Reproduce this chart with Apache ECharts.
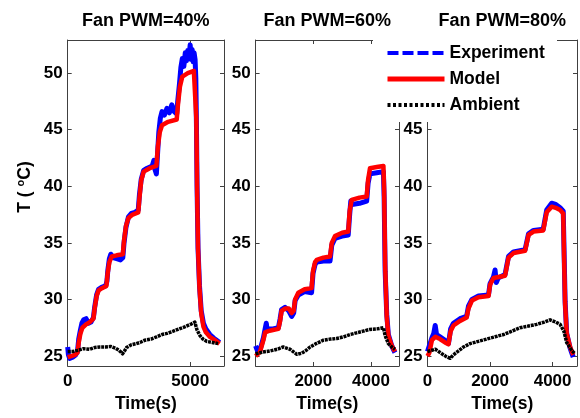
<!DOCTYPE html>
<html>
<head>
<meta charset="utf-8">
<script src="https://cdn.jsdelivr.net/npm/echarts@6/dist/echarts.min.js"></script>
<style>
  html, body { margin: 0; padding: 0; background: #fff; }
  #chart { width: 580px; height: 418px; }
</style>
</head>
<body>
<div id="chart"></div>
<script>
// Panel titles and series names
const panelTitles = ['Fan PWM=40%', 'Fan PWM=60%', 'Fan PWM=80%'];
const seriesNames = ['Experiment', 'Model', 'Ambient'];

// Axis ranges and ticks
const xMax = [6380, 4970, 4780];
const xTicks = [[0, 5000], [0, 2000, 4000], [0, 2000, 4000]];
const xLabels = [[0, 5000], [2000, 4000], [0, 2000, 4000]];
const yMin = 24.12;
const yMax = 52.93;
const yTicks = [25, 30, 35, 40, 45, 50];

// Fan PWM = 40 %  ([time s, temperature °C])
const exp40 = [[0,25.8],[30,25.1],[80,24.8],[200,24.9],[320,25.1],[400,25.4],[450,26.5],[520,27.3],[580,27.9],[650,28.2],[750,28.3],[850,27.9],[950,28.0],[1050,28.4],[1100,29.3],[1180,30.4],[1260,30.9],[1400,31.1],[1550,31.2],[1600,31.6],[1640,32.6],[1700,33.6],[1760,34.0],[1850,33.7],[2000,33.6],[2150,33.5],[2250,33.7],[2300,35.0],[2380,36.4],[2480,37.3],[2600,37.6],[2750,37.7],[2880,37.9],[2930,39.3],[3000,40.6],[3100,41.4],[3250,41.6],[3450,41.8],[3520,42.3],[3560,41.5],[3620,41.1],[3660,42.6],[3720,44.8],[3780,46.0],[3850,46.6],[3950,46.3],[4050,46.9],[4150,46.5],[4250,47.2],[4350,46.6],[4450,46.4],[4490,47.5],[4560,49.0],[4620,50.5],[4680,51.3],[4740,50.6],[4800,51.8],[4850,51.1],[4900,52.0],[4950,51.4],[5000,52.5],[5040,51.2],[5080,52.1],[5120,51.0],[5160,51.8],[5200,51.2],[5230,49.5],[5255,45.5],[5280,40.0],[5320,34.5],[5380,31.2],[5450,29.0],[5540,27.9],[5640,27.4],[5800,26.9],[5950,26.6],[6200,26.2]];
const model40 = [[0,24.9],[150,25.0],[300,25.1],[400,25.3],[450,26.2],[520,27.0],[600,27.5],[750,27.8],[900,28.0],[1050,28.3],[1100,29.2],[1180,30.3],[1260,30.8],[1400,31.0],[1580,31.2],[1630,32.3],[1700,33.3],[1800,33.8],[2000,33.9],[2250,34.0],[2300,35.2],[2380,36.5],[2480,37.2],[2650,37.5],[2880,37.7],[2930,39.0],[3000,40.5],[3100,41.3],[3350,41.6],[3620,41.8],[3680,43.5],[3760,44.8],[3850,45.4],[4100,45.7],[4450,45.9],[4500,47.2],[4580,48.8],[4680,49.7],[4900,50.0],[5150,50.2],[5210,50.1],[5250,46.0],[5280,40.0],[5320,34.5],[5380,31.0],[5450,28.8],[5540,27.6],[5640,27.1],[5800,26.7],[5950,26.5],[6200,26.1]];
const amb40 = [[0,25.4],[200,25.4],[400,25.5],[640,25.65],[900,25.6],[1100,25.75],[1320,25.8],[1550,25.8],[1750,25.85],[1950,25.7],[2100,25.5],[2240,25.2],[2320,25.45],[2400,25.75],[2600,26.0],[2800,26.1],[2950,26.2],[3150,26.4],[3400,26.5],[3630,26.7],[3850,26.9],[4050,27.0],[4310,27.2],[4550,27.4],[4800,27.6],[5060,27.85],[5190,28.0],[5240,27.6],[5280,27.3],[5400,26.8],[5520,26.5],[5670,26.3],[5900,26.2],[6140,26.1]];

// Fan PWM = 60 %
const exp60 = [[0,25.9],[60,25.5],[150,25.5],[270,26.6],[330,27.4],[370,27.9],[400,27.3],[480,27.4],[600,27.4],[790,27.5],[850,28.3],[900,29.1],[1020,29.3],[1150,29.0],[1250,28.5],[1320,28.8],[1370,29.9],[1480,30.4],[1700,30.7],[1940,30.6],[1990,32.3],[2060,33.1],[2120,33.3],[2350,33.4],[2580,33.4],[2640,34.8],[2750,35.4],[3000,35.6],[3210,35.7],[3260,37.5],[3300,38.7],[3340,38.4],[3600,38.5],[3850,38.7],[3900,40.3],[3965,41.1],[4200,41.2],[4430,41.3],[4455,39.0],[4490,32.5],[4545,28.7],[4600,26.9],[4720,25.9],[4830,25.3]];
const model60 = [[0,25.0],[150,25.35],[270,26.4],[330,27.1],[440,27.2],[600,27.3],[790,27.4],[850,28.1],[900,29.0],[1020,29.2],[1150,29.2],[1250,28.8],[1320,29.0],[1370,30.0],[1480,30.6],[1700,30.9],[1940,31.0],[1990,32.5],[2060,33.3],[2120,33.5],[2350,33.7],[2580,33.8],[2640,35.0],[2750,35.6],[3000,35.9],[3210,36.0],[3260,37.8],[3330,38.8],[3600,39.0],[3850,39.1],[3900,40.6],[3965,41.6],[4200,41.7],[4430,41.8],[4455,39.6],[4490,33.0],[4545,28.5],[4600,26.8],[4720,25.9],[4830,25.4]];
const amb60 = [[0,25.2],[250,25.35],[500,25.45],[750,25.6],[960,25.8],[1190,25.6],[1350,25.3],[1430,25.15],[1600,25.25],[1750,25.5],[1890,25.8],[2100,26.1],[2350,26.4],[2600,26.5],[2810,26.55],[3050,26.7],[3270,26.9],[3500,27.05],[3730,27.2],[3950,27.35],[4200,27.4],[4430,27.5],[4490,26.8],[4600,26.1],[4720,25.8],[4830,25.6]];

// Fan PWM = 80 %
const exp80 = [[0,25.4],[60,25.5],[140,26.6],[200,27.0],[246,27.7],[290,26.9],[400,26.7],[560,26.4],[670,26.1],[740,27.4],[830,27.9],[1040,28.3],[1250,28.5],[1310,29.4],[1420,30.0],[1630,30.3],[1950,30.4],[2000,31.4],[2110,32.0],[2160,32.6],[2200,31.5],[2260,31.9],[2480,32.2],[2590,33.8],[2750,34.2],[3120,34.4],[3230,35.8],[3390,36.1],[3700,36.2],[3810,37.9],[3970,38.5],[4100,38.4],[4240,38.1],[4340,37.8],[4365,34.5],[4400,29.8],[4450,27.0],[4560,25.7],[4660,24.9]];
const model80 = [[0,25.0],[60,25.3],[140,26.4],[250,26.7],[400,26.5],[560,26.2],[670,26.05],[740,27.2],[830,27.7],[1040,28.1],[1250,28.4],[1310,29.2],[1420,29.9],[1630,30.2],[1950,30.3],[2000,31.3],[2110,31.9],[2480,32.1],[2590,33.7],[2750,34.1],[3120,34.3],[3230,35.7],[3390,36.0],[3700,36.1],[3810,37.7],[3970,38.2],[4100,38.1],[4240,37.9],[4340,37.6],[4365,34.0],[4400,29.6],[4450,27.0],[4560,25.8],[4660,25.1]];
const amb80 = [[0,25.4],[250,25.6],[460,25.2],[600,24.95],[725,24.8],[830,25.1],[940,25.35],[1150,25.8],[1360,26.1],[1630,26.3],[1890,26.5],[2160,26.7],[2430,26.9],[2700,27.2],[2960,27.5],[3230,27.65],[3490,27.8],[3730,28.0],[3920,28.2],[4100,28.0],[4240,27.8],[4360,27.2],[4450,26.2],[4610,25.5],[4715,25.2]];

const panelData = [[exp40, model40, amb40], [exp60, model60, amb60], [exp80, model80, amb80]];

const FONT = "'Liberation Sans', Arial, sans-serif";
const AXIS_COLOR = '#404040';
const lineColors = ['#0000ff', '#ff0000', '#000000'];

// Plot-area rectangles (left, right edge, top, bottom)
const gridBoxes = [
  { left: 67.7, right: 224, top: 40, bottom: 369 },
  { left: 255.6, right: 399, top: 40, bottom: 369 },
  { left: 427.5, right: 577, top: 40, bottom: 369 }
];

const tickFont = { color: '#000', fontSize: 17, fontWeight: 'bold', fontFamily: FONT };
const plain = v => String(v);

const grids = [], xAxes = [], yAxes = [], series = [], graphics = [];

gridBoxes.forEach((b, i) => {
  grids.push({ left: b.left, top: b.top, width: b.right - b.left, height: b.bottom - b.top, containLabel: false });

  const axisLine = { show: true, onZero: false, lineStyle: { color: AXIS_COLOR, width: 1 } };
  // bottom x axis with labels
  xAxes.push({
    type: 'value', gridIndex: i, position: 'bottom', min: 0, max: xMax[i],
    axisLine, splitLine: { show: false },
    axisTick: { inside: true, length: 4, lineStyle: { color: AXIS_COLOR }, customValues: xTicks[i] },
    axisLabel: { ...tickFont, margin: 7, customValues: xLabels[i], formatter: plain },
    name: 'Time(s)', nameLocation: 'middle', nameGap: 29,
    nameTextStyle: { color: '#000', fontSize: 17.5, fontWeight: 'bold', fontFamily: FONT }
  });
  // mirrored top x axis
  xAxes.push({
    type: 'value', gridIndex: i, position: 'top', min: 0, max: xMax[i],
    axisLine, splitLine: { show: false },
    axisTick: { inside: true, length: 4, lineStyle: { color: AXIS_COLOR }, customValues: xTicks[i] },
    axisLabel: { show: false }
  });
  // left y axis with labels
  yAxes.push({
    type: 'value', gridIndex: i, position: 'left', min: yMin, max: yMax,
    axisLine, splitLine: { show: false },
    axisTick: { inside: true, length: 4, lineStyle: { color: AXIS_COLOR }, customValues: yTicks },
    axisLabel: { ...tickFont, margin: 5, customValues: yTicks, formatter: plain }
  });
  // mirrored right y axis
  yAxes.push({
    type: 'value', gridIndex: i, position: 'right', min: yMin, max: yMax,
    axisLine, splitLine: { show: false },
    axisTick: { inside: true, length: 4, lineStyle: { color: AXIS_COLOR }, customValues: yTicks },
    axisLabel: { show: false }
  });

  const widths = [5, 4.5, 3.5];
  const types = ['solid', 'solid', [3, 0.8]];
  panelData[i].forEach((data, k) => {
    series.push({
      name: seriesNames[k], type: 'line', data,
      xAxisIndex: 2 * i, yAxisIndex: 2 * i,
      symbol: 'none', animation: false, z: 2 + k,
      lineStyle: { color: lineColors[k], width: widths[k], type: types[k], join: 'round' },
      itemStyle: { color: lineColors[k] }
    });
  });

  graphics.push({
    type: 'text', x: (b.left + b.right) / 2, y: 21,
    style: { text: panelTitles[i], fill: '#000', font: "bold 18px " + FONT, textAlign: 'center', textVerticalAlign: 'middle' }
  });
});

// white backdrop behind the legend
graphics.push({ type: 'rect', shape: { x: 373, y: 37, width: 184, height: 85 }, style: { fill: '#fff' }, z: 10 });

// rotated y-axis title with superscript degree mark
graphics.push({
  type: 'text', x: 25, y: 187, rotation: Math.PI / 2,
  style: {
    text: '{a|T ( }{s|o}{a|C)}',
    textAlign: 'center', textVerticalAlign: 'middle',
    rich: {
      a: { fontSize: 17.5, fontWeight: 'bold', fontFamily: FONT, fill: '#000', color: '#000', lineHeight: 22 },
      s: { fontSize: 11, fontWeight: 'bold', fontFamily: FONT, fill: '#000', color: '#000', lineHeight: 22, padding: [0, 0, 9, 0] }
    }
  }
});

const chart = echarts.init(document.getElementById('chart'), null, { renderer: 'canvas' });
chart.setOption({
  animation: false,
  backgroundColor: '#fff',
  grid: grids,
  xAxis: xAxes,
  yAxis: yAxes,
  series,
  graphic: graphics,
  legend: {
    orient: 'vertical', left: 385, top: 43, padding: 0, z: 20,
    itemWidth: 57, itemHeight: 14, itemGap: 6, selectedMode: false,
    textStyle: { color: '#000', fontSize: 17.5, fontWeight: 'bold', fontFamily: FONT, lineHeight: 20 },
    data: [
      { name: 'Experiment', itemStyle: { opacity: 0 }, lineStyle: { type: [11, 4], width: 4, color: '#0000ff' } },
      { name: 'Model', itemStyle: { opacity: 0 }, lineStyle: { type: 'solid', width: 5, color: '#ff0000' } },
      { name: 'Ambient', itemStyle: { opacity: 0 }, lineStyle: { type: [3, 2.5], width: 4, color: '#000' } }
    ]
  }
});
</script>
</body>
</html>
